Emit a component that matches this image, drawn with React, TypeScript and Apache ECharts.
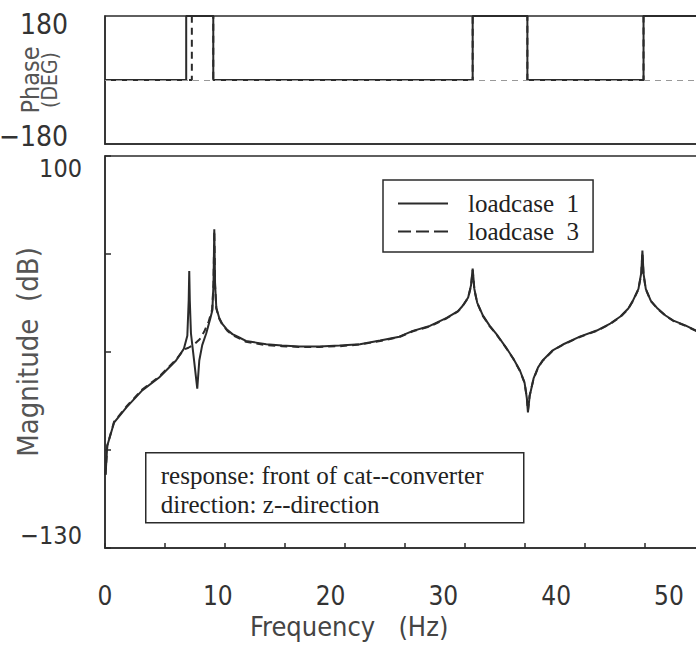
import React, { useEffect, useRef } from "react";
import * as echarts from "echarts";

// ---- data ----
const X_MIN = 0;
const X_MAX = 53.2;
const X_LABEL_STEP = 10;

const PHASE_MIN = -180;
const PHASE_MAX = 180;
const MAG_MIN = -130;
const MAG_MAX = 100;

const seriesNames = ["loadcase 1", "loadcase 3"];

// phase (deg) vs frequency (Hz)
const phaseFreq1 = [0, 7.2, 7.2, 9.6, 9.6, 32.6, 32.6, 37.45, 37.45, 47.75, 47.75, 53.33];
const phase1 = [0, 0, 180, 180, 0, 0, 180, 180, 0, 0, 180, 180];
const phaseFreq3 = [0, 7.7, 7.7, 9.6, 9.6, 32.6, 32.6, 37.45, 37.45, 47.75, 47.75, 53.33];
const phase3 = [0, 0, 180, 180, 0, 0, 180, 180, 0, 0, 180, 180];

// magnitude (dB) vs frequency (Hz)
const freq1 = [
  0.05, 0.2, 0.8, 1.9, 3.3, 4.8, 6.3, 7.0, 7.3, 7.42, 7.47, 7.52, 7.62, 7.9, 8.18, 8.36, 8.62, 8.98,
  9.33, 9.52, 9.62, 9.69, 9.76, 9.87, 10.13, 10.4, 10.84, 11.3, 11.9, 12.5, 13.4, 14.3, 15.7, 17.2,
  19.0, 20.8, 22.6, 24.4, 26.1, 27.3, 28.8, 30.3, 31.3, 31.7, 32.2, 32.45, 32.6, 32.75, 33.0, 33.5,
  34.1, 34.8, 35.5, 36.2, 36.8, 37.2, 37.4, 37.5, 37.65, 38.0, 38.4, 38.8, 39.7, 40.6, 42.1, 43.6,
  44.8, 45.7, 46.4, 46.8, 47.3, 47.55, 47.65, 47.75, 47.95, 48.4, 49.0, 49.7, 50.4, 51.5, 52.4, 53.33,
];
const mag1 = [
  -87, -70, -56.5, -47.5, -37.5, -30, -20, -13, -5.5, 15, 32.5, 15, -4, -20, -36.5, -20, -11, -4,
  4.5, 9.5, 25, 57, 25, 11, 5, 1.5, -2, -4.5, -6.5, -8.5, -9.5, -10.5, -11.2, -11.8,
  -11.8, -11.2, -10.4, -8.3, -6, -2.6, 0.3, 5, 9, 12, 17, 24, 34, 22, 14, 6.5,
  0.5, -5.3, -11.8, -18.8, -26, -33, -42, -50.5, -41, -30.5, -24, -20, -14, -10.6, -6, -2.4,
  1.7, 5.8, 10.5, 15, 22, 31.5, 44.5, 31, 22, 15, 10.5, 6.4, 3.4, 0.5, -2.4, -4.2,
];

const freq3 = [
  0.05, 0.2, 0.8, 1.9, 3.3, 4.8, 6.3, 7.0, 7.4, 7.9, 8.4, 8.8, 9.2, 9.5, 9.62, 9.69, 9.76, 9.87,
  10.13, 10.4, 10.84, 11.3, 11.9, 12.5, 13.4, 14.3, 15.7, 17.2, 19.0, 20.8, 22.6, 24.4, 26.1, 27.3,
  28.8, 30.3, 31.3, 31.7, 32.2, 32.45, 32.6, 32.75, 33.0, 33.5, 34.1, 34.8, 35.5, 36.2, 36.8, 37.2,
  37.4, 37.5, 37.65, 38.0, 38.4, 38.8, 39.7, 40.6, 42.1, 43.6, 44.8, 45.7, 46.4, 46.8, 47.3, 47.55,
  47.65, 47.75, 47.95, 48.4, 49.0, 49.7, 50.4, 51.5, 52.4, 53.33,
];
const mag3 = [
  -87, -70, -56, -47, -37, -29.5, -19.5, -13.5, -12.5, -10.5, -7.5, -3, 3, 10, 25, 56, 24, 10.5,
  4.5, 1, -2.5, -5, -7, -9, -10, -11, -11.6, -12, -12, -11.6, -10.6, -8.6, -6.2, -2.8,
  0, 4.8, 8.8, 11.8, 16.8, 23.5, 33, 21.5, 13.8, 6.2, 0.2, -5.5, -12, -19, -26.2, -33,
  -41.5, -49.5, -40.5, -30.8, -24.2, -20.2, -14.2, -10.8, -6.2, -2.6, 1.5, 5.6, 10.3, 14.8, 21.8, 31,
  43.5, 30.5, 21.8, 14.8, 10.3, 6.2, 3.2, 0.3, -2.6, -4.4,
];

const phaseTitle = ["Phase", "(DEG)"];
const magTitle = "Magnitude  (dB)";
const freqTitle = "Frequency   (Hz)";
const noteLines = ["response: front of cat--converter", "direction: z--direction"];

const zip = (xs: number[], ys: number[]) => xs.map((x, i) => [x, ys[i]]);

const SANS = "'Liberation Sans Narrow', 'DejaVu Sans Condensed', 'DejaVu Sans', sans-serif";
const SERIF = "'Liberation Serif', 'DejaVu Serif', serif";
const INK = "#2b2b2b";

const SOLID_ICON = "path://M0,0h50v2h-50z";
const DASH_ICON = "path://M0,0h13v2h-13z M18,0h13v2h-13z M36,0h14v2h-14z";

const fmtNum = (v: number) => (v < 0 ? "\u2212" + String(Math.abs(v)) : String(v));

export default function App() {
  const ref = useRef<HTMLDivElement>(null);

  useEffect(() => {
    if (!ref.current) return;
    const chart = echarts.init(ref.current, undefined, { renderer: "svg" });

    const extremeOnly = (lo: number, hi: number) => (v: number) =>
      Math.abs(v - lo) < 1e-6 || Math.abs(v - hi) < 1e-6 ? fmtNum(v) : "";

    const axisLine = { show: true, onZero: false, lineStyle: { color: INK, width: 1.5 } };

    const option: any = {
      animation: false,
      backgroundColor: "#ffffff",
      title: [
        {
          text: freqTitle,
          left: 250,
          top: 612,
          padding: 0,
          textStyle: { fontFamily: SANS, fontSize: 27, fontWeight: "normal", color: "#444", lineHeight: 28 },
        },
      ],
      legend: {
        orient: "vertical",
        left: 383,
        top: 180,
        data: [
          { name: seriesNames[0], icon: SOLID_ICON },
          { name: seriesNames[1], icon: DASH_ICON },
        ],
        formatter: (n: string) => n.replace(" ", "  "),
        itemWidth: 50,
        itemHeight: 2,
        itemGap: 3,
        padding: [11, 14, 8, 15],
        borderColor: INK,
        borderWidth: 1.5,
        borderRadius: 0,
        backgroundColor: "#fff",
        itemStyle: { color: INK },
        textStyle: {
          fontFamily: SERIF,
          fontSize: 25,
          color: "#222",
          lineHeight: 25,
          padding: [0, 0, 0, 15],
        },
      },
      grid: [
        {
          left: 105, top: 16, width: 600, height: 128, show: true,
          borderColor: INK, borderWidth: 1.5, outerBoundsMode: "none", containLabel: false,
        },
        {
          left: 105, top: 156, width: 600, height: 392, show: true,
          borderColor: INK, borderWidth: 1.5, outerBoundsMode: "none", containLabel: false,
        },
      ],
      xAxis: [
        {
          gridIndex: 0,
          type: "value",
          position: "bottom",
          min: X_MIN,
          max: X_MAX,
          axisLine,
          axisTick: { show: false },
          axisLabel: { show: false },
          splitLine: { show: false },
        },
        {
          gridIndex: 1,
          type: "value",
          position: "bottom",
          min: X_MIN,
          max: X_MAX,
          interval: (X_MAX - X_MIN) / 10,
          axisLine,
          axisTick: { show: true, inside: true, length: 5, lineStyle: { color: INK, width: 1.5 } },
          axisLabel: { show: false },
          splitLine: { show: false },
        },
        {
          gridIndex: 1,
          type: "value",
          position: "bottom",
          min: X_MIN,
          max: X_MAX,
          interval: X_LABEL_STEP,
          axisLine: { show: false, onZero: false },
          axisTick: { show: false },
          splitLine: { show: false },
          axisLabel: {
            show: true,
            margin: 36,
            showMaxLabel: false,
            fontFamily: SANS,
            fontSize: 26,
            lineHeight: 24,
            color: "#333",
            formatter: (v: number) => (Math.abs(v % X_LABEL_STEP) < 1e-6 ? String(v) : ""),
          },
        },
      ],
      yAxis: [
        {
          gridIndex: 0,
          type: "value",
          min: PHASE_MIN,
          max: PHASE_MAX,
          interval: 180,
          axisLine,
          axisTick: { show: false },
          splitLine: { show: false },
          axisLabel: {
            margin: 37,
            fontFamily: SANS,
            fontSize: 28,
            lineHeight: 16,
            color: "#333",
            verticalAlignMaxLabel: "top",
            verticalAlignMinLabel: "bottom",
            formatter: extremeOnly(PHASE_MIN, PHASE_MAX),
          },
          name: `{a|${phaseTitle[0]}}\n{b|${phaseTitle[1]}}`,
          nameLocation: "middle",
          nameRotate: 90,
          nameGap: 46,
          nameMoveOverlap: false,
          nameTextStyle: {
            color: "#555",
            rich: {
              a: { fontFamily: SANS, fontSize: 25, color: "#555", lineHeight: 20 },
              b: { fontFamily: SANS, fontSize: 21, color: "#555", lineHeight: 19 },
            },
          },
        },
        {
          gridIndex: 1,
          type: "value",
          min: MAG_MIN,
          max: MAG_MAX,
          interval: (MAG_MAX - MAG_MIN) / 4,
          axisLine,
          axisTick: { show: true, inside: true, length: 6, lineStyle: { color: INK, width: 1.5 } },
          splitLine: { show: false },
          axisLabel: {
            margin: 23,
            fontFamily: SANS,
            fontSize: 25,
            color: "#333",
            verticalAlignMaxLabel: "top",
            verticalAlignMinLabel: "bottom",
            formatter: extremeOnly(MAG_MIN, MAG_MAX),
          },
          name: magTitle,
          nameLocation: "middle",
          nameRotate: 90,
          nameGap: 63,
          nameMoveOverlap: false,
          nameTextStyle: { fontFamily: SANS, fontSize: 29, color: "#555" },
        },
      ],
      series: [
        {
          name: seriesNames[0],
          type: "line",
          xAxisIndex: 0,
          yAxisIndex: 0,
          data: zip(phaseFreq1, phase1),
          showSymbol: false,
          symbol: "none",
          itemStyle: { color: INK },
          lineStyle: { color: INK, width: 2 },
          markLine: {
            silent: true,
            symbol: "none",
            label: { show: false },
            lineStyle: { color: "#999", width: 1, type: [6, 5] },
            data: [{ yAxis: 0 }],
          },
        },
        {
          name: seriesNames[1],
          type: "line",
          xAxisIndex: 0,
          yAxisIndex: 0,
          data: zip(phaseFreq3, phase3),
          showSymbol: false,
          symbol: "none",
          itemStyle: { color: INK },
          lineStyle: { color: INK, width: 2, type: [7, 5] },
        },
        {
          name: seriesNames[0],
          type: "line",
          xAxisIndex: 1,
          yAxisIndex: 1,
          data: zip(freq1, mag1),
          showSymbol: false,
          symbol: "none",
          itemStyle: { color: INK },
          lineStyle: { color: INK, width: 2 },
        },
        {
          name: seriesNames[1],
          type: "line",
          xAxisIndex: 1,
          yAxisIndex: 1,
          data: zip(freq3, mag3),
          showSymbol: false,
          symbol: "none",
          itemStyle: { color: INK },
          lineStyle: { color: INK, width: 2, type: [7, 5] },
        },
      ],
      graphic: [
        {
          type: "group",
          left: 145,
          top: 452,
          children: [
            {
              type: "rect",
              shape: { x: 0, y: 0, width: 378, height: 70 },
              style: { fill: "#fff", stroke: INK, lineWidth: 1.5 },
            },
            {
              type: "text",
              x: 15,
              y: 23,
              style: {
                text: noteLines[0],
                fontFamily: SERIF,
                fontSize: 25,
                fill: "#222",
                verticalAlign: "middle",
              },
            },
            {
              type: "text",
              x: 15,
              y: 52,
              style: {
                text: noteLines[1],
                fontFamily: SERIF,
                fontSize: 25,
                fill: "#222",
                verticalAlign: "middle",
              },
            },
          ],
        },
      ],
    };

    chart.setOption(option);
    return () => chart.dispose();
  }, []);

  return (
    <div
      ref={ref}
      style={{ position: "fixed", left: 0, top: 0, width: 696, height: 646, background: "#fff" }}
    />
  );
}
